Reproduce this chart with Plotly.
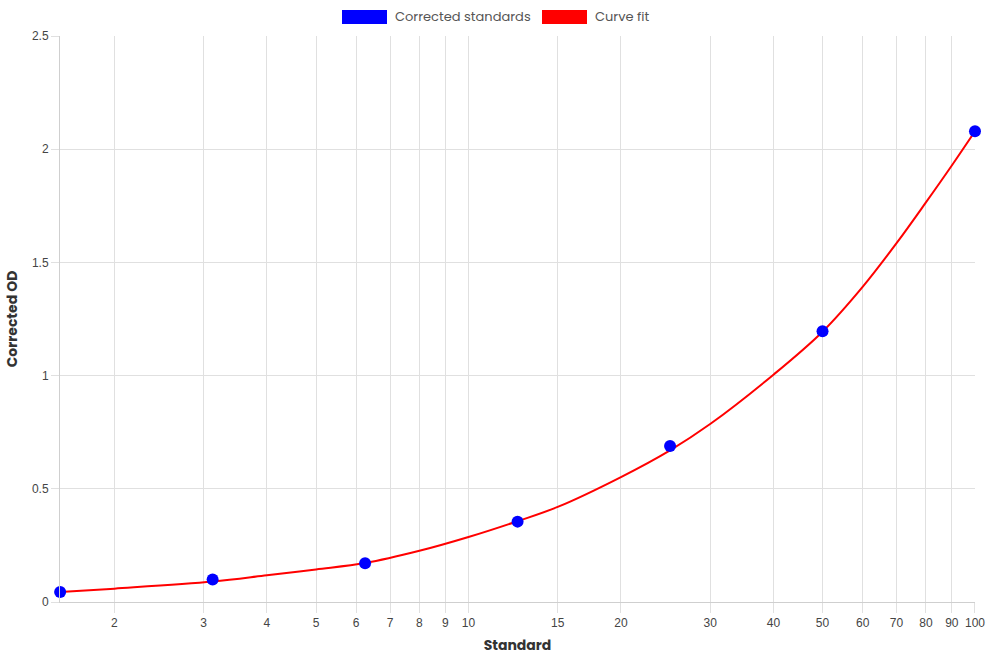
import math
import plotly.graph_objects as go

# ---- data ----
std_x = [1.5625, 3.125, 6.25, 12.5, 25, 50, 100]
std_y = [0.044, 0.099, 0.171, 0.355, 0.689, 1.196, 2.079]

curve_x = [1.5625, 2, 3.125, 4, 5, 6.25, 8, 10, 12.5, 15, 20, 25, 30, 40, 50, 60, 70, 80, 90, 100]
curve_y = [0.044, 0.059, 0.090, 0.118, 0.144, 0.172, 0.226, 0.287, 0.357, 0.420, 0.552, 0.670,
           0.786, 1.004, 1.194, 1.392, 1.585, 1.765, 1.928, 2.079]

x_ticks = [2, 3, 4, 5, 6, 7, 8, 9, 10, 15, 20, 30, 40, 50, 60, 70, 80, 90, 100]
x_tick_text = [str(v) for v in x_ticks]
y_ticks = [0, 0.5, 1, 1.5, 2, 2.5]
y_tick_text = ["0", "0.5", "1", "1.5", "2", "2.5"]

legend_names = ["Corrected standards", "Curve fit"]
legend_colors = ["#0000ff", "#ff0000"]

TITLE_FONT = "Poppins, 'Open Sans', sans-serif"
TICK_FONT = "Arial, 'Liberation Sans', sans-serif"
GRID = "#e0e0e0"

fig = go.Figure()
fig.add_trace(go.Scatter(
    x=curve_x, y=curve_y, mode="lines", name=legend_names[1],
    line=dict(color=legend_colors[1], width=2, shape="spline", smoothing=1.0),
    showlegend=False, cliponaxis=False, hoverinfo="x+y"))
fig.add_trace(go.Scatter(
    x=std_x, y=std_y, mode="markers", name=legend_names[0],
    marker=dict(color=legend_colors[0], size=12, line=dict(width=0)),
    showlegend=False, cliponaxis=False))

# manual Chart.js-style legend (boxes + labels)
W, H = 990, 660
L, R, T, B = 60, 15, 36, 58
pw, ph = W - L - R, H - T - B

def px(xp):
    return (xp - L) / pw

def py(yp):
    return (H - B - yp) / ph

legend_boxes = [(342, 387), (542, 587)]
shapes = []
annotations = []
for (x0, x1), name, col in zip(legend_boxes, legend_names, legend_colors):
    shapes.append(dict(type="rect", xref="paper", yref="paper",
                       x0=px(x0), x1=px(x1), y0=py(24), y1=py(10),
                       fillcolor=col, line=dict(width=0)))
    annotations.append(dict(text=name, xref="paper", yref="paper",
                            x=px(x1 + 6), y=py(17), xanchor="left", yanchor="middle",
                            showarrow=False, font=dict(family=TITLE_FONT, size=13, color="#555")))

fig.update_layout(
    width=W, height=H,
    margin=dict(l=L, r=R, t=T, b=B),
    paper_bgcolor="white", plot_bgcolor="white",
    showlegend=False,
    shapes=shapes, annotations=annotations,
    xaxis=dict(
        type="log", range=[math.log10(std_x[0]) - 3e-4, math.log10(100) + 1e-5],
        automargin=False,
        tickvals=x_ticks, ticktext=x_tick_text,
        showgrid=True, gridcolor=GRID, gridwidth=1,
        showline=True, linecolor="#cfcfcf", linewidth=1,
        ticks="outside", ticklen=10, tickcolor=GRID,
        tickfont=dict(family=TICK_FONT, size=12, color="#444"),
        zeroline=False,
        title=dict(text="<b>Standard</b>", standoff=10,
                   font=dict(family=TITLE_FONT, size=14, color="#333")),
    ),
    yaxis=dict(
        range=[0, 2.5], tickvals=y_ticks, ticktext=y_tick_text,
        automargin=False,
        showgrid=True, gridcolor=GRID, gridwidth=1,
        showline=True, linecolor="#cfcfcf", linewidth=1,
        ticks="outside", ticklen=8, tickcolor=GRID,
        tickfont=dict(family=TICK_FONT, size=12, color="#444"),
        zeroline=False,
        title=dict(text="<b>Corrected OD</b>", standoff=11,
                   font=dict(family=TITLE_FONT, size=14, color="#333")),
    ),
)

fig.write_html("out.html")
